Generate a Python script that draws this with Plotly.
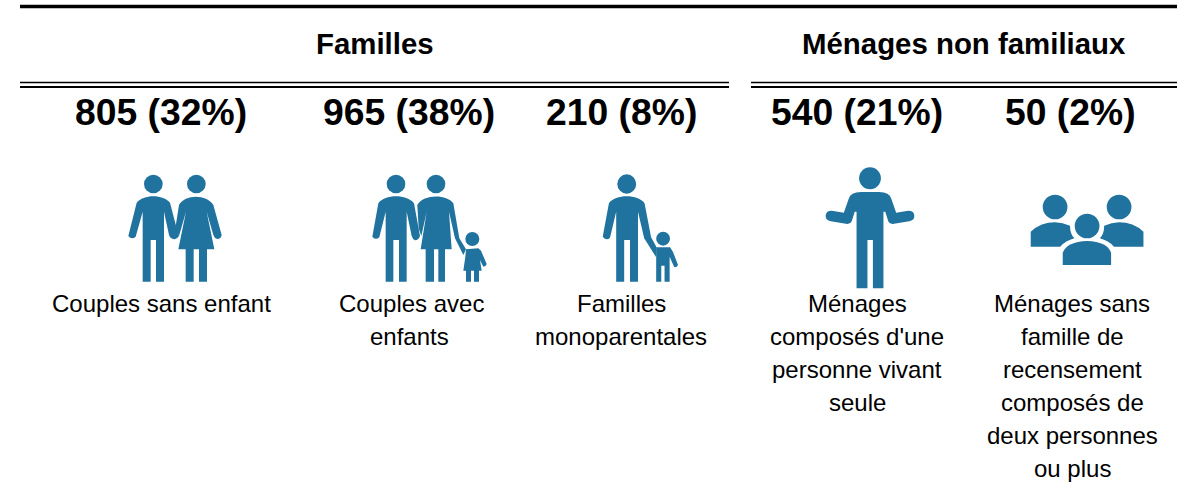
import re
import plotly.graph_objects as go

group_titles = ["Familles", "Ménages non familiaux"]
counts = [805, 965, 210, 540, 50]
percents = [32, 38, 8, 21, 2]
label_lines = [
    ["Couples sans enfant"],
    ["Couples avec", "enfants"],
    ["Familles", "monoparentales"],
    ["Ménages", "composés d'une", "personne vivant", "seule"],
    ["Ménages sans", "famille de", "recensement", "composés de", "deux personnes", "ou plus"],
]

BLUE = "#20739F"
FONT = "Liberation Sans, Arial, sans-serif"
W, H = 1179, 485
group_x = [374.5, 964]
col_x = [161, 409, 621, 857, 1070.5]
label_x = [161, 409.5, 621, 857, 1072]
shapes = []
annotations = []

A = (110, 160, 3.0, 3.0)
B = (590, 160, 2.75, 3.0)


def tx(path, o):
    ox, oy, sx, sy = o
    nums = iter(range(10**6))
    def rep(m):
        i = next(nums)
        v = float(m.group(0))
        return f"{ox + v / sx:.2f}" if i % 2 == 0 else f"{oy + v / sy:.2f}"
    return re.sub(r"-?\d+(\.\d+)?", rep, path)


def fill(path, o):
    shapes.append(dict(type="path", path=tx(path, o), xref="x", yref="y",
                       fillcolor=BLUE, line=dict(width=0), layer="above"))


def head(cx, cy, rx, ry, o):
    ox, oy, sx, sy = o
    shapes.append(dict(type="circle", xref="x", yref="y",
                       x0=ox + (cx - rx) / sx, x1=ox + (cx + rx) / sx,
                       y0=oy + (cy - ry) / sy, y1=oy + (cy + ry) / sy,
                       fillcolor=BLUE, line=dict(width=0), layer="above"))


def rule(x0, x1, y, w):
    shapes.append(dict(type="line", xref="x", yref="y", x0=x0, x1=x1, y0=y, y1=y,
                       line=dict(color="black", width=w)))


def text(s, x, y, size, bold=False):
    annotations.append(dict(text=f"<b>{s}</b>" if bold else s, x=x, y=y, xref="x", yref="y",
                            showarrow=False, xanchor="center", yanchor="middle",
                            font=dict(family=FONT, size=size, color="black")))


# Rules
rule(20, 1177, 6.5, 3.5)
for x0, x1 in [(20, 729), (751, 1177)]:
    rule(x0, x1, 82.5, 1.6)
    rule(x0, x1, 87, 2)

# Icons (zoomed-crop units)
head(130, 72, 28, 28, A)
fill("M 80 128 C 100 102 160 102 180 128 L 200 205 L 207 228 Q 200 240 190 237 Q 180 235 177 225 L 162 155 "
     "L 162 365 L 138 365 L 138 240 L 122 240 L 122 365 L 98 365 L 98 155 L 77 230 Q 65 240 55 228 Z", A)
head(259, 72, 28, 28, A)
fill("M 207 135 C 225 102 290 102 310 135 L 335 225 Q 333 237 322 237 Q 313 235 310 225 L 290 155 L 313 268 L 291 268 "
     "L 291 365 L 267 365 L 267 268 L 251 268 L 251 365 L 227 365 L 227 268 L 205 268 L 228 155 L 207 228 L 196 205 Z", A)

head(858, 72, 28, 28, A)
fill("M 805 130 C 825 102 890 102 912 130 L 930 228 Q 925 241 915 241 Q 908 238 905 228 L 890 155 "
     "L 890 365 L 867 365 L 867 240 L 850 240 L 850 365 L 827 365 L 827 155 L 808 232 Q 797 242 787 230 Z", A)
head(978, 72, 28, 28, A)
fill("M 922 135 C 940 102 1010 102 1030 130 L 1048 235 L 1068 268 L 1060 285 L 1035 235 L 1017 155 L 1025 268 L 1005 268 "
     "L 1005 365 L 985 365 L 985 268 L 972 268 L 972 365 L 947 365 L 947 268 L 932 268 L 950 155 L 934 228 L 926 205 Z", A)
head(1087, 237, 21, 21, A)
fill("M 1068 268 L 1105 265 L 1113 272 L 1130 312 Q 1128 320 1120 320 L 1110 300 L 1115 332 L 1107 332 L 1107 365 "
     "L 1092 365 L 1092 332 L 1083 332 L 1083 365 L 1068 365 L 1068 332 L 1060 332 L 1066 290 Z", A)

head(101, 72, 26, 29, B)
fill("M 52 130 C 70 102 132 102 150 130 L 168 232 L 183 262 L 182 292 L 149 235 L 132 155 L 132 365 L 110 365 L 110 240 "
     "L 94 240 L 94 365 L 72 365 L 72 155 L 55 233 Q 45 244 35 230 Z", B)
head(201, 236, 19, 21, B)
fill("M 182 262 L 220 262 L 228 275 L 242 315 Q 240 322 232 322 L 225 305 L 219 290 L 219 365 L 205 365 L 205 317 "
     "L 196 317 L 196 365 L 182 365 Z", B)

head(770, 55, 30, 33, B)
fill("M 712 115 Q 716 97 745 96 L 795 96 Q 824 97 828 115 L 842 158 L 875 152 Q 892 152 892 168 Q 892 181 878 184 "
     "L 832 192 Q 822 190 820 183 L 812 155 L 807 155 L 807 385 L 778 385 L 778 240 L 763 240 L 763 385 L 733 385 "
     "L 733 155 L 728 155 L 720 183 Q 718 190 708 192 L 662 184 Q 648 181 648 168 Q 648 152 665 152 L 698 158 Z", B)

head(1279, 141, 34, 37, B)
head(1455, 141, 34, 37, B)
head(1367, 198, 34, 37, B)
fill("M 1300 315 L 1300 278 Q 1312 245 1367 243 Q 1422 245 1433 278 L 1433 315 Z", B)
fill("M 1212 260 L 1212 215 Q 1240 187 1279 187 Q 1300 188 1320 197 Q 1320 222 1332 235 Q 1308 242 1293 260 Z", B)
fill("M 1522 260 L 1522 215 Q 1494 187 1455 187 Q 1434 188 1414 197 Q 1414 222 1402 235 Q 1426 242 1441 260 Z", B)

# Text
for title, x in zip(group_titles, group_x):
    text(title, x, 43.5, 29.4, bold=True)
for c, p, x in zip(counts, percents, col_x):
    text(f"{c} ({p}%)", x, 111.5, 37.3, bold=True)
for col, (lines, x) in enumerate(zip(label_lines, label_x)):
    for i, line in enumerate(lines):
        shift = 1.5 if (col, i) == (1, 0) else 0
        text(line, x + shift, 303.5 + 33 * i, 24)

fig = go.Figure()
fig.update_layout(
    width=W, height=H, autosize=False, margin=dict(l=0, r=0, t=0, b=0),
    paper_bgcolor="white", plot_bgcolor="white", showlegend=False,
    xaxis=dict(range=[0, W], visible=False, fixedrange=True),
    yaxis=dict(range=[H, 0], visible=False, fixedrange=True),
    shapes=shapes, annotations=annotations,
)
fig.write_html("out.html", config={"displayModeBar": False},
               post_script="document.body.style.margin='0';document.documentElement.style.overflow='hidden';")
